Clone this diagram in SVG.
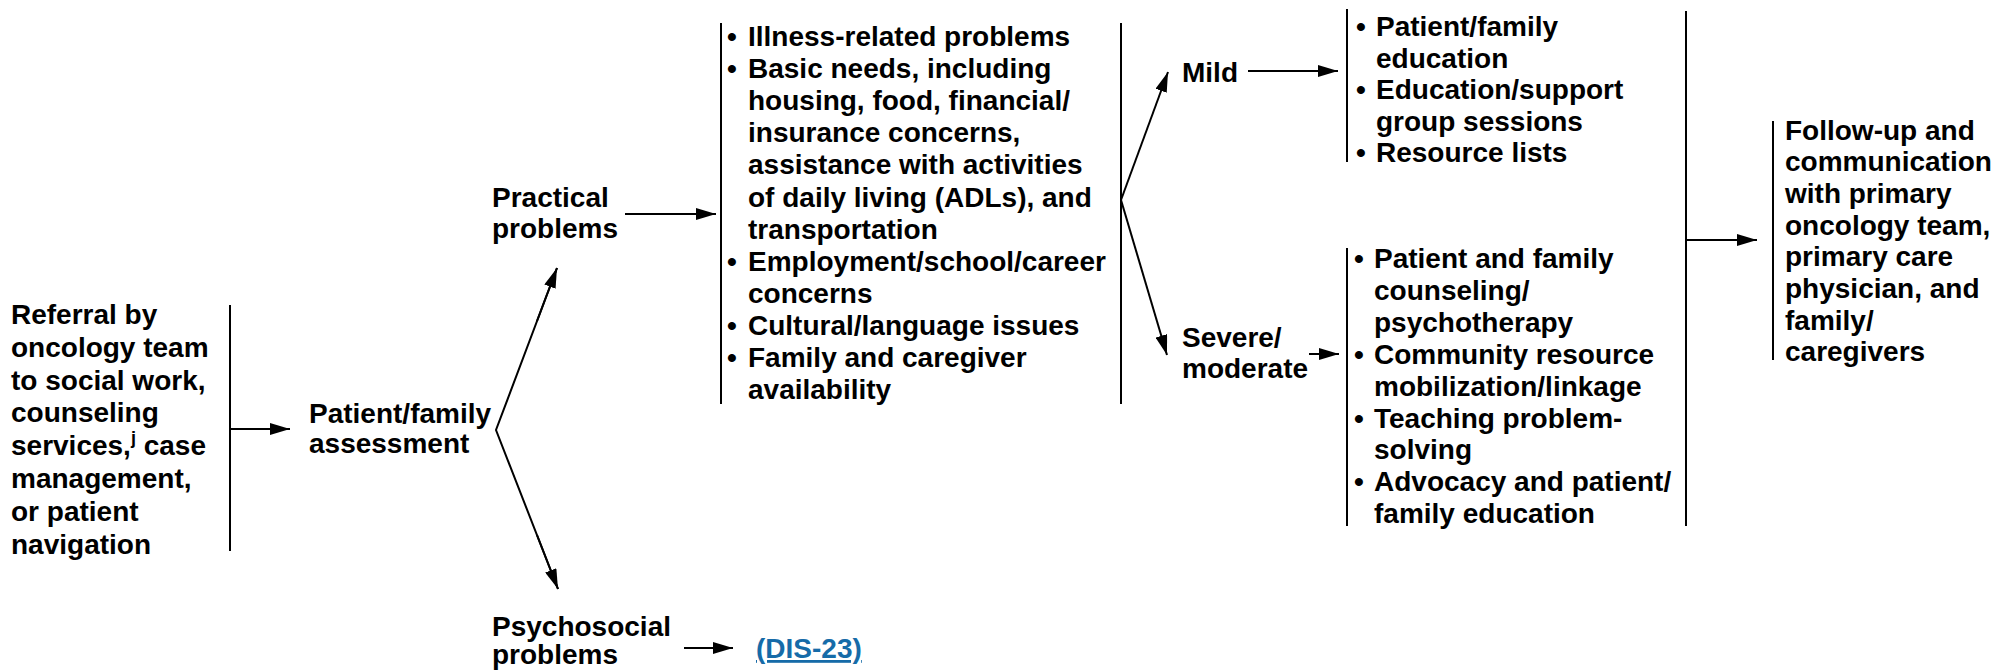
<svg xmlns="http://www.w3.org/2000/svg" width="2001" height="671" viewBox="0 0 2001 671">
  <style>
    text { font-family: "Liberation Sans", Arial, sans-serif; font-weight: bold; font-size: 28px; fill: #000; }
    .link { fill: #166ba8; }
    .bar { stroke: #000; stroke-width: 2; fill: none; }
    .arrow { stroke: #000; stroke-width: 2; fill: none; marker-end: url(#head); }
  </style>
  <defs>
    <marker id="head" markerUnits="userSpaceOnUse" markerWidth="20" markerHeight="12" refX="20" refY="6" orient="auto">
      <path d="M0,0 L20,6 L0,12 Z" fill="#000"/>
    </marker>
  </defs>

  <rect width="2001" height="671" fill="#fff"/>

  <!-- entry: referral -->
  <g id="referral">
    <text x="11" y="324">Referral by</text>
    <text x="11" y="356.8">oncology team</text>
    <text x="11" y="389.6">to social work,</text>
    <text x="11" y="422.4">counseling</text>
    <text x="11" y="455.2">services,<tspan font-size="18" dy="-11">j</tspan><tspan dy="11"> case</tspan></text>
    <text x="11" y="488">management,</text>
    <text x="11" y="520.8">or patient</text>
    <text x="11" y="553.6">navigation</text>
  </g>

  <g id="assessment">
    <text x="309" y="423">Patient/family</text>
    <text x="309" y="453">assessment</text>
  </g>

  <g id="practical">
    <text x="492" y="207">Practical</text>
    <text x="492" y="238">problems</text>
  </g>

  <g id="psychosocial">
    <text x="492" y="636">Psychosocial</text>
    <text x="492" y="664">problems</text>
  </g>

  <g id="dis23">
    <text x="756" y="658" class="link" text-decoration="underline">(DIS-23)</text>
  </g>

  <!-- practical problem list -->
  <g id="practical-list">
    <text x="727" y="46">•</text>
    <text x="748" y="46">Illness-related problems</text>
    <text x="727" y="78.1">•</text>
    <text x="748" y="78.1">Basic needs, including</text>
    <text x="748" y="110.2">housing, food, financial/</text>
    <text x="748" y="142.3">insurance concerns,</text>
    <text x="748" y="174.4">assistance with activities</text>
    <text x="748" y="206.5">of daily living (ADLs), and</text>
    <text x="748" y="238.6">transportation</text>
    <text x="727" y="270.7">•</text>
    <text x="748" y="270.7">Employment/school/career</text>
    <text x="748" y="302.8">concerns</text>
    <text x="727" y="334.9">•</text>
    <text x="748" y="334.9">Cultural/language issues</text>
    <text x="727" y="367">•</text>
    <text x="748" y="367">Family and caregiver</text>
    <text x="748" y="399.1">availability</text>
  </g>

  <g id="mild">
    <text x="1182" y="82">Mild</text>
  </g>

  <g id="severe">
    <text x="1182" y="347">Severe/</text>
    <text x="1182" y="378">moderate</text>
  </g>

  <g id="mild-list">
    <text x="1356" y="36">•</text>
    <text x="1376" y="36">Patient/family</text>
    <text x="1376" y="67.5">education</text>
    <text x="1356" y="99">•</text>
    <text x="1376" y="99">Education/support</text>
    <text x="1376" y="130.5">group sessions</text>
    <text x="1356" y="162">•</text>
    <text x="1376" y="162">Resource lists</text>
  </g>

  <g id="severe-list">
    <text x="1354" y="268">•</text>
    <text x="1374" y="268">Patient and family</text>
    <text x="1374" y="299.9">counseling/</text>
    <text x="1374" y="331.8">psychotherapy</text>
    <text x="1354" y="363.7">•</text>
    <text x="1374" y="363.7">Community resource</text>
    <text x="1374" y="395.6">mobilization/linkage</text>
    <text x="1354" y="427.5">•</text>
    <text x="1374" y="427.5">Teaching problem-</text>
    <text x="1374" y="459.4">solving</text>
    <text x="1354" y="491.3">•</text>
    <text x="1374" y="491.3">Advocacy and patient/</text>
    <text x="1374" y="523.2">family education</text>
  </g>

  <g id="follow-up">
    <text x="1785" y="139.5">Follow-up and</text>
    <text x="1785" y="171.2">communication</text>
    <text x="1785" y="202.9">with primary</text>
    <text x="1785" y="234.6">oncology team,</text>
    <text x="1785" y="266.3">primary care</text>
    <text x="1785" y="298">physician, and</text>
    <text x="1785" y="329.7">family/</text>
    <text x="1785" y="361.4">caregivers</text>
  </g>

  <!-- connectors: brackets and arrows -->
  <g id="connectors">
    <line class="bar" x1="230" y1="305" x2="230" y2="551"/>
    <line class="arrow" x1="230" y1="429" x2="290" y2="429"/>

    <polyline class="bar" points="557,268 496,430 558,589"/>
    <line class="arrow" x1="537" y1="321" x2="557" y2="268"/>
    <line class="arrow" x1="537" y1="535" x2="558" y2="589"/>

    <line class="arrow" x1="625" y1="214" x2="716" y2="214"/>
    <line class="arrow" x1="684" y1="648" x2="733" y2="648"/>

    <line class="bar" x1="721" y1="23" x2="721" y2="404"/>
    <line class="bar" x1="1121" y1="23" x2="1121" y2="404"/>

    <line class="arrow" x1="1121" y1="200" x2="1168" y2="72"/>
    <line class="arrow" x1="1121" y1="200" x2="1167" y2="355"/>

    <line class="arrow" x1="1248" y1="71" x2="1338" y2="71"/>
    <line class="arrow" x1="1309" y1="354" x2="1339" y2="354"/>

    <line class="bar" x1="1347" y1="9" x2="1347" y2="162"/>
    <line class="bar" x1="1347" y1="248" x2="1347" y2="526"/>

    <line class="bar" x1="1686" y1="11" x2="1686" y2="526"/>
    <line class="arrow" x1="1686" y1="240" x2="1757" y2="240"/>

    <line class="bar" x1="1773" y1="121" x2="1773" y2="360"/>
  </g>
</svg>
